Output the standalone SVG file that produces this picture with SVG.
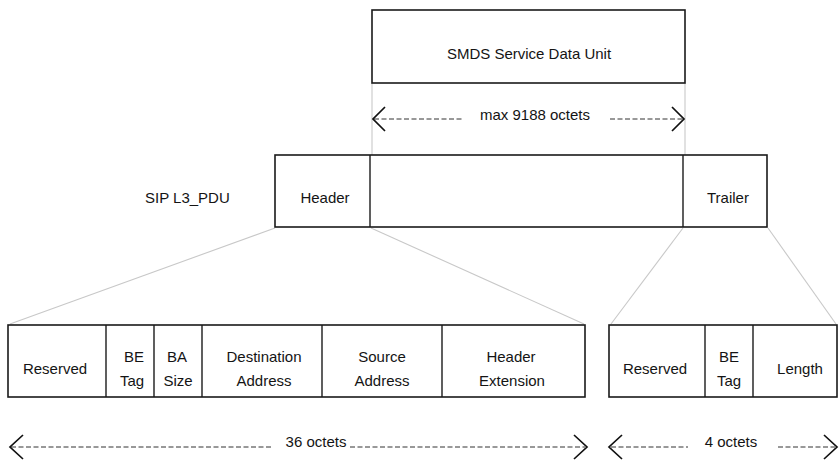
<svg xmlns="http://www.w3.org/2000/svg" width="840" height="461" viewBox="0 0 840 461">
  <style>
    .box { fill: #ffffff; stroke: #1a1a1a; stroke-width: 1.6; }
    .div { stroke: #1a1a1a; stroke-width: 1.4; }
    .guide { stroke: #c8c8c8; stroke-width: 1.1; fill: none; }
    .dash { stroke: #333333; stroke-width: 1; stroke-dasharray: 5 2.5; fill: none; }
    .head { stroke: #111111; stroke-width: 1.7; fill: none; stroke-linejoin: miter; }
    text { font-family: "Liberation Sans", Arial, sans-serif; font-size: 15px; fill: #141414; text-anchor: middle; }
    .lbl { text-anchor: start; }
  </style>

  <!-- expansion guides -->
  <g id="connectors">
    <line class="guide" x1="372" y1="83" x2="372" y2="155"/>
    <line class="guide" x1="685" y1="83" x2="685" y2="155"/>
    <line class="guide" x1="275" y1="228" x2="10" y2="324"/>
    <line class="guide" x1="371" y1="228" x2="584" y2="324"/>
    <line class="guide" x1="683" y1="228" x2="611" y2="324"/>
    <line class="guide" x1="768" y1="228" x2="836" y2="324"/>
  </g>

  <!-- service data unit -->
  <g id="sdu">
    <rect class="box" x="372" y="10" width="313" height="73"/>
    <text x="529" y="59">SMDS Service Data Unit</text>
  </g>

  <!-- length of the data unit -->
  <g id="len-sdu">
    <line class="dash" x1="374" y1="119" x2="463" y2="119"/>
    <line class="dash" x1="610" y1="119" x2="683" y2="119"/>
    <polyline class="head" points="385,107 373,119 385,131"/>
    <polyline class="head" points="672,107 684,119 672,131"/>
    <text x="535" y="120">max 9188 octets</text>
  </g>

  <!-- level 3 PDU -->
  <g id="l3pdu">
    <text class="lbl" x="145" y="203">SIP L3_PDU</text>
    <rect class="box" x="275" y="155" width="492" height="72"/>
    <line class="div" x1="370" y1="155" x2="370" y2="227"/>
    <line class="div" x1="683" y1="155" x2="683" y2="227"/>
    <text x="325" y="203">Header</text>
    <text x="728" y="203">Trailer</text>
  </g>

  <!-- header fields -->
  <g id="header-fields">
    <rect class="box" x="8" y="325" width="577" height="72"/>
    <line class="div" x1="106" y1="325" x2="106" y2="397"/>
    <line class="div" x1="154" y1="325" x2="154" y2="397"/>
    <line class="div" x1="202" y1="325" x2="202" y2="397"/>
    <line class="div" x1="322" y1="325" x2="322" y2="397"/>
    <line class="div" x1="442" y1="325" x2="442" y2="397"/>
    <text x="55" y="374">Reserved</text>
    <text x="134" y="362">BE</text>
    <text x="132" y="386">Tag</text>
    <text x="177" y="362">BA</text>
    <text x="178" y="386">Size</text>
    <text x="264" y="362">Destination</text>
    <text x="264" y="386">Address</text>
    <text x="382" y="362">Source</text>
    <text x="382" y="386">Address</text>
    <text x="511" y="362">Header</text>
    <text x="512" y="386">Extension</text>
  </g>

  <!-- trailer fields -->
  <g id="trailer-fields">
    <rect class="box" x="609" y="325" width="228" height="72"/>
    <line class="div" x1="705" y1="325" x2="705" y2="397"/>
    <line class="div" x1="753" y1="325" x2="753" y2="397"/>
    <text x="655" y="374">Reserved</text>
    <text x="729" y="362">BE</text>
    <text x="729" y="386">Tag</text>
    <text x="800" y="374">Length</text>
  </g>

  <!-- header length -->
  <g id="len-header">
    <line class="dash" x1="11" y1="447" x2="272" y2="447"/>
    <line class="dash" x1="350" y1="447" x2="585" y2="447"/>
    <polyline class="head" points="23,435 10,447 23,459"/>
    <polyline class="head" points="574,435 587,447 574,459"/>
    <text x="316" y="447">36 octets</text>
  </g>

  <!-- trailer length -->
  <g id="len-trailer">
    <line class="dash" x1="611" y1="447" x2="688" y2="447"/>
    <line class="dash" x1="778" y1="447" x2="835" y2="447"/>
    <polyline class="head" points="622,435 609,447 622,459"/>
    <polyline class="head" points="824,435 837,447 824,459"/>
    <text x="731" y="447">4 octets</text>
  </g>
</svg>
